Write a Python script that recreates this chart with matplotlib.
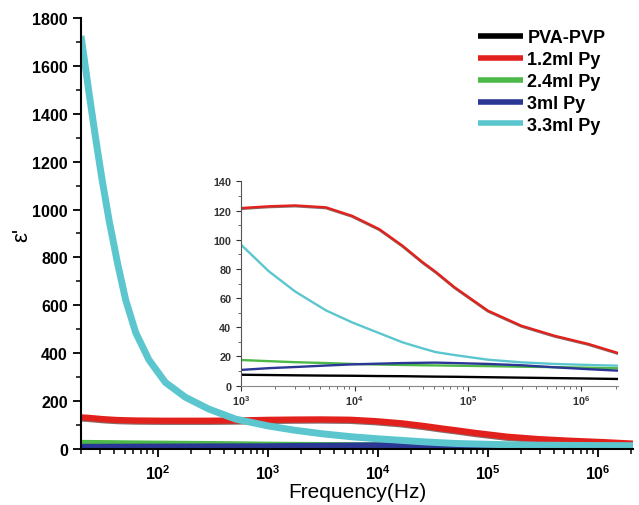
import math
import matplotlib
matplotlib.use("Agg")
import matplotlib.pyplot as plt
import matplotlib.patheffects as pe
from matplotlib.ticker import LogLocator, MultipleLocator, NullFormatter, FuncFormatter

plt.rcParams['font.family'] = ['Liberation Sans', 'DejaVu Sans']
plt.rcParams['mathtext.fontset'] = 'custom'
plt.rcParams['mathtext.rm'] = 'Liberation Sans'
plt.rcParams['mathtext.bf'] = 'Liberation Sans:bold'

freq = [20, 23.6, 27, 31, 36, 43, 51, 63, 83, 117, 178, 290, 508, 1e3, 1.75e3, 3e3,
        5.6e3, 9.5e3, 1.65e4, 2.65e4, 4e4, 5.2e4, 7.6e4, 1.5e5, 2.95e5, 5.8e5, 1.15e6, 2.1e6]

series_names = ["PVA-PVP", "1.2ml Py", "2.4ml Py", "3ml Py", "3.3ml Py"]
pva_pvp = [10, 9.9, 9.8, 9.7, 9.6, 9.5, 9.4, 9.2, 9.0, 8.8, 8.5, 8.2, 7.9, 7.5, 7.3, 7.1,
           6.9, 6.8, 6.6, 6.5, 6.3, 6.2, 6.1, 5.8, 5.5, 5.2, 4.9, 4.6]
py_12 = [132, 130, 127.5, 125, 123, 121, 120, 119, 118.5, 118, 118, 118, 119, 121.7, 122.9, 123.5,
         122.2, 116.4, 107.3, 95.9, 84.5, 78, 67.5, 51.4, 41.1, 34.2, 28.6, 22.4]
py_24 = [25, 24.8, 24.5, 24.2, 24, 23.6, 23.2, 22.8, 22.3, 21.8, 21.1, 20.3, 19.2, 17.6, 16.8, 16.1,
         15.5, 14.9, 14.5, 14.2, 14, 13.9, 13.7, 13.4, 13, 12.7, 12.3, 11.9]
py_3 = [8.5, 8.6, 8.7, 8.8, 8.9, 9, 9.1, 9.3, 9.5, 9.7, 9.9, 10.2, 10.5, 10.8, 12, 12.8,
        13.8, 14.6, 15.1, 15.5, 15.7, 15.8, 15.5, 14.9, 14, 12.6, 11.3, 10.3]
py_33 = [1725, 1490, 1305, 1128, 955, 775, 622, 485, 372, 278, 216, 167, 125, 96.6, 78.5, 64.5,
         51.6, 43.4, 36, 29.7, 25.5, 23, 21, 17.8, 16, 14.9, 14.2, 13.7]

colors = ["#000000", "#E3211C", "#4CB847", "#2B3795", "#5CC6CF"]
all_series = [pva_pvp, py_12, py_24, py_3, py_33]

fig = plt.figure(figsize=(6.39, 5.06), dpi=100)
ax = fig.add_axes([0.1268, 0.1107, 0.8638, 0.8518])

red_fx = [pe.SimpleLineShadow(offset=(0, -0.8), shadow_color='#3a0a05', alpha=0.6), pe.Normal()]

main_lw = [4.5, 4.5, 4.5, 4.5, 5]
for name, vals, c, lw in zip(series_names, all_series, colors, main_lw):
    ln, = ax.plot(freq, vals, color=c, lw=lw, label=name, solid_capstyle='butt')
    if c == "#E3211C":
        ln.set_path_effects(red_fx)

bold_pow = FuncFormatter(lambda v, p: r'$\mathbf{10^{%d}}$' % round(math.log10(v)))

ax.set_xscale('log')
ax.set_xlim(20, 2.1e6)
ax.set_ylim(0, 1800)
ax.spines['top'].set_visible(False)
ax.spines['right'].set_visible(False)
ax.spines['left'].set_linewidth(1.5)
ax.spines['bottom'].set_linewidth(1.5)
ax.yaxis.set_major_locator(MultipleLocator(200))
ax.yaxis.set_minor_locator(MultipleLocator(100))
ax.xaxis.set_major_locator(LogLocator(base=10, numticks=20))
ax.xaxis.set_minor_locator(LogLocator(base=10, subs=range(2, 10), numticks=20))
ax.xaxis.set_major_formatter(bold_pow)
ax.xaxis.set_minor_formatter(NullFormatter())
ax.tick_params(axis='both', which='major', direction='out', length=6, width=1.3, labelsize=11.5)
ax.tick_params(axis='both', which='minor', direction='out', length=3.5, width=1.1)
for lab in ax.get_yticklabels():
    lab.set_fontweight('bold')
ax.tick_params(axis='x', which='major', pad=4)
ax.set_xlabel("Frequency(Hz)", fontsize=15, labelpad=0.5)
ax.set_ylabel("ε'", fontsize=16, labelpad=0)

leg = ax.legend(loc='upper left', bbox_to_anchor=(0.7065, 0.9907), frameon=False,
                prop={'weight': 'bold', 'size': 13}, handlelength=2.5,
                handletextpad=0.22, labelspacing=0.27, borderaxespad=0)
for line in leg.get_lines():
    line.set_linewidth(4)
    line.set_path_effects([])

ins = fig.add_axes([0.3772, 0.2358, 0.5900, 0.4038])
for vals, c in zip(all_series, colors):
    ln, = ins.plot(freq, vals, color=c, lw=1.7)
    if c == "#E3211C":
        ln.set_path_effects([pe.SimpleLineShadow(offset=(0, -0.6), shadow_color='#3a0a05', alpha=0.6),
                             pe.Normal()])
ins.set_xscale('log')
ins.set_xlim(1e3, 2.1e6)
ins.set_ylim(0, 140)
ins.spines['top'].set_visible(False)
ins.spines['right'].set_visible(False)
ins.spines['left'].set_color('#555555')
ins.spines['bottom'].set_color('#888888')
ins.yaxis.set_major_locator(MultipleLocator(20))
ins.yaxis.set_minor_locator(MultipleLocator(10))
ins.xaxis.set_major_locator(LogLocator(base=10, numticks=20))
ins.xaxis.set_minor_locator(LogLocator(base=10, subs=range(2, 10), numticks=20))
ins.xaxis.set_major_formatter(bold_pow)
ins.xaxis.set_minor_formatter(NullFormatter())
ins.tick_params(axis='both', which='major', direction='out', length=3.5, width=0.8,
                labelsize=7.8, colors='#333333')
ins.tick_params(axis='both', which='minor', direction='out', length=2, width=0.6,
                colors='#555555')
ins.tick_params(axis='x', which='major', pad=2)
ins.set_facecolor('none')
for lab in ins.get_yticklabels():
    lab.set_fontweight('bold')

fig.savefig("out.png", dpi=100)
